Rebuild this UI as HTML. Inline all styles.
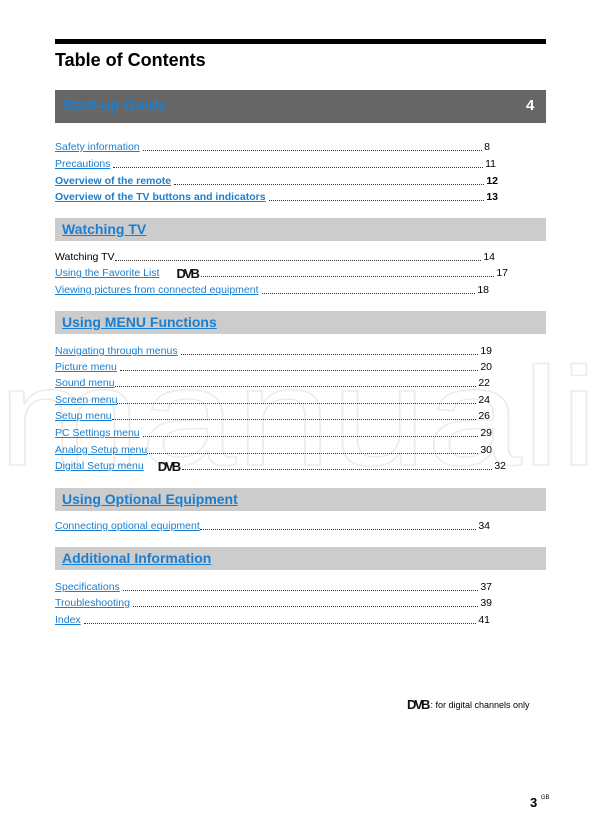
<!DOCTYPE html>
<html><head><meta charset="utf-8"><style>
body{margin:0;width:600px;height:816px;background:#fff;font-family:"Liberation Sans",Arial,sans-serif;position:relative;overflow:hidden}
.abs{position:absolute}
.row{position:absolute;left:55px;height:14px;display:flex;align-items:flex-end;font-size:10.5px;color:#000;line-height:13px}
.row a{color:#1a7fd0;text-decoration:underline;white-space:nowrap}
.row .d{flex:1;border-bottom:1px dotted #333;margin:0 2px 3px 3px;height:1px}
.row.b{font-weight:bold}
.hd{position:absolute;left:55px;width:491px;background:#ccc;height:23px}
.hd span{position:absolute;left:7px;top:3px;font-size:14px;font-weight:bold;color:#1a7fd0;text-decoration:underline}
.dvb{font-family:"Liberation Sans",sans-serif;font-weight:bold;font-size:13px;letter-spacing:-2px;display:inline-block;color:#111}
</style></head><body>
<svg class="abs" style="left:0;top:330px" width="600" height="150">
<text x="-2" y="135" font-size="140" textLength="600" lengthAdjust="spacingAndGlyphs" font-family="Liberation Sans" fill="none" stroke="#ececec" stroke-width="1.5">manuali</text>
</svg>
<div class="abs" style="left:55px;top:39px;width:491px;height:5px;background:#000"></div>
<div class="abs" style="left:55px;top:50px;font-size:18px;font-weight:bold">Table of Contents</div>
<div class="abs" style="left:55px;top:90px;width:491px;height:33px;background:#666"></div>
<div class="abs" style="left:62px;top:97px;font-size:15px;font-weight:bold;color:#1a7fd0;text-decoration:underline">Start-up Guide</div>
<div class="abs" style="left:526px;top:97px;font-size:15px;font-weight:bold;color:#fff">4</div>

<div class="row" style="top:140px;width:435px"><a>Safety information</a><span class="d"></span>8</div>
<div class="row" style="top:157px;width:441px"><a>Precautions</a><span class="d"></span>11</div>
<div class="row b" style="top:174px;width:443px"><a>Overview of the remote</a><span class="d"></span>12</div>
<div class="row b" style="top:190px;width:443px"><a>Overview of the TV buttons and indicators</a><span class="d"></span>13</div>

<div class="hd" style="top:218px"><span>Watching TV</span></div>
<div class="row" style="top:250px;width:440px">Watching TV<span class="d" style="margin-left:0"></span>14</div>
<div class="row" style="top:266px;width:453px"><a>Using the Favorite List</a><span class="dvb" style="margin-left:17px">DVB</span><span class="d"></span>17</div>
<div class="row" style="top:283px;width:434px"><a>Viewing pictures from connected equipment</a><span class="d"></span>18</div>

<div class="hd" style="top:311px"><span>Using MENU Functions</span></div>
<div class="row" style="top:344px;width:437px"><a>Navigating through menus</a><span class="d"></span>19</div>
<div class="row" style="top:360px;width:437px"><a>Picture menu</a><span class="d"></span>20</div>
<div class="row" style="top:376px;width:435px"><a>Sound menu</a><span class="d" style="margin-left:0"></span>22</div>
<div class="row" style="top:393px;width:435px"><a>Screen menu</a><span class="d" style="margin-left:0"></span>24</div>
<div class="row" style="top:409px;width:435px"><a>Setup menu</a><span class="d" style="margin-left:0"></span>26</div>
<div class="row" style="top:426px;width:437px"><a>PC Settings menu</a><span class="d"></span>29</div>
<div class="row" style="top:443px;width:437px"><a>Analog Setup menu</a><span class="d" style="margin-left:0"></span>30</div>
<div class="row" style="top:459px;width:451px"><a>Digital Setup menu</a><span class="dvb" style="margin-left:14px">DVB</span><span class="d"></span>32</div>

<div class="hd" style="top:488px"><span>Using Optional Equipment</span></div>
<div class="row" style="top:519px;width:435px"><a>Connecting optional equipment</a><span class="d" style="margin-left:0"></span>34</div>

<div class="hd" style="top:547px"><span>Additional Information</span></div>
<div class="row" style="top:580px;width:437px"><a>Specifications</a><span class="d"></span>37</div>
<div class="row" style="top:596px;width:437px"><a>Troubleshooting</a><span class="d"></span>39</div>
<div class="row" style="top:613px;width:435px"><a>Index</a><span class="d"></span>41</div>

<div class="abs" style="left:407px;top:697px;font-size:9px;display:flex;align-items:center"><span class="dvb" style="font-size:13px;margin-right:2px">DVB</span> : for digital channels only</div>
<div class="abs" style="left:530px;top:795px;font-size:13px;font-weight:bold">3 <span style="font-size:6px;font-weight:normal;vertical-align:top">GB</span></div>
</body></html>
